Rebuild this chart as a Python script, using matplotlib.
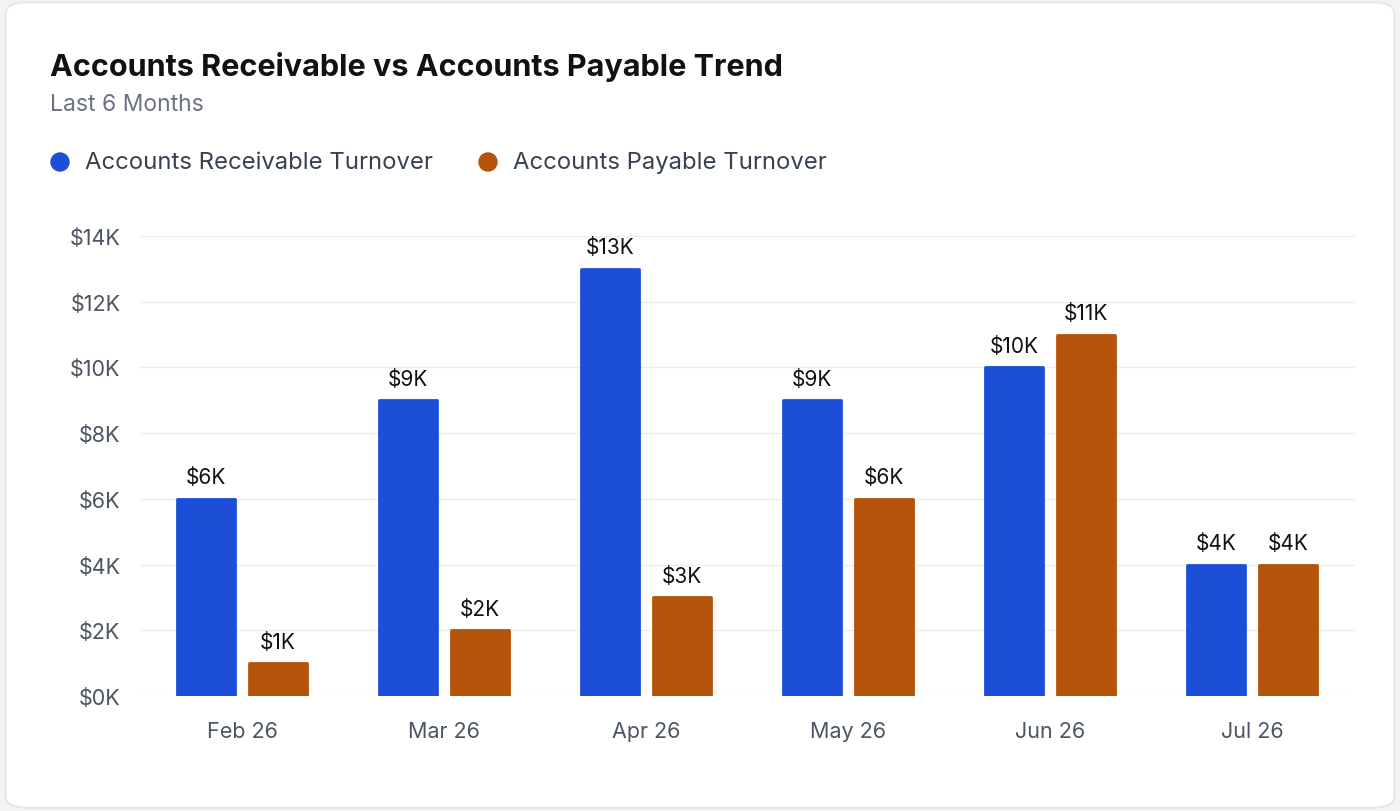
import matplotlib

matplotlib.use("Agg")
import matplotlib.pyplot as plt
from matplotlib.patches import FancyBboxPatch, Ellipse
import numpy as np

months = ["Feb 26", "Mar 26", "Apr 26", "May 26", "Jun 26", "Jul 26"]
receivable = [6000, 9000, 13000, 9000, 10000, 4000]
payable = [1000, 2000, 3000, 6000, 11000, 4000]
yticks = [0, 2000, 4000, 6000, 8000, 10000, 12000, 14000]

BLUE = "#1d4ed8"
ORANGE = "#b45309"
plt.rcParams["font.family"] = ["Inter", "DejaVu Sans"]

W, H = 1400, 812
fig = plt.figure(figsize=(14, 8.12), dpi=100)
fig.patch.set_facecolor("#f3f4f6")
card = FancyBboxPatch((0.004, 0.004), 0.992, 0.992, boxstyle="round,pad=0,rounding_size=0.015",
                      transform=fig.transFigure, facecolor="white", edgecolor="#e5e7eb",
                      linewidth=1.5, zorder=-10)
fig.patches.append(card)

fig.text(50 / W, 1 - 67 / H, "Accounts Receivable vs Accounts Payable Trend",
         fontsize=22, fontweight="bold", color="#111111", va="center")
fig.text(50 / W, 1 - 105 / H, "Last 6 Months", fontsize=16.5, color="#6b7280", va="center")

# legend
for x0, label, col in [(60, "Accounts Receivable Turnover", BLUE), (488, "Accounts Payable Turnover", ORANGE)]:
    fig.patches.append(Ellipse((x0 / W, 1 - 163 / H), 18 / W, 18 / H, transform=fig.transFigure,
                               color=col))
    fig.text((x0 + 25) / W, 1 - 163 / H, label, fontsize=17.2, color="#374151", va="center")

ax = fig.add_axes([140 / W, 1 - 697 / H, 1215 / W, 460 / H])
ax.set_facecolor("none")
x = np.arange(len(months))
w = 0.285
off = 0.178
b1 = ax.bar(x - off, receivable, w, color=BLUE, edgecolor=BLUE, linewidth=2, joinstyle="round")
b2 = ax.bar(x + off, payable, w, color=ORANGE, edgecolor=ORANGE, linewidth=2, joinstyle="round")
for bars, vals in [(b1, receivable), (b2, payable)]:
    for b, v in zip(bars, vals):
        ax.text(b.get_x() + b.get_width() / 2, v + 350, f"${v // 1000}K", ha="center", va="bottom",
                fontsize=15, color="#111111")

ax.set_xlim(-0.505, 5.51)
ax.set_ylim(0, 14000)
ax.set_yticks(yticks)
ax.set_yticklabels([f"${v // 1000}K" for v in yticks])
ax.set_xticks(x)
ax.set_xticklabels(months)
ax.tick_params(axis="both", length=0, labelsize=15.5, labelcolor="#4b5563")
ax.tick_params(axis="x", pad=18)
ax.tick_params(axis="y", pad=14)
ax.grid(axis="y", color="#eeeeee", linewidth=1)
ax.set_axisbelow(True)
for s in ax.spines.values():
    s.set_visible(False)

fig.savefig("out.png", dpi=100, facecolor=fig.get_facecolor())
